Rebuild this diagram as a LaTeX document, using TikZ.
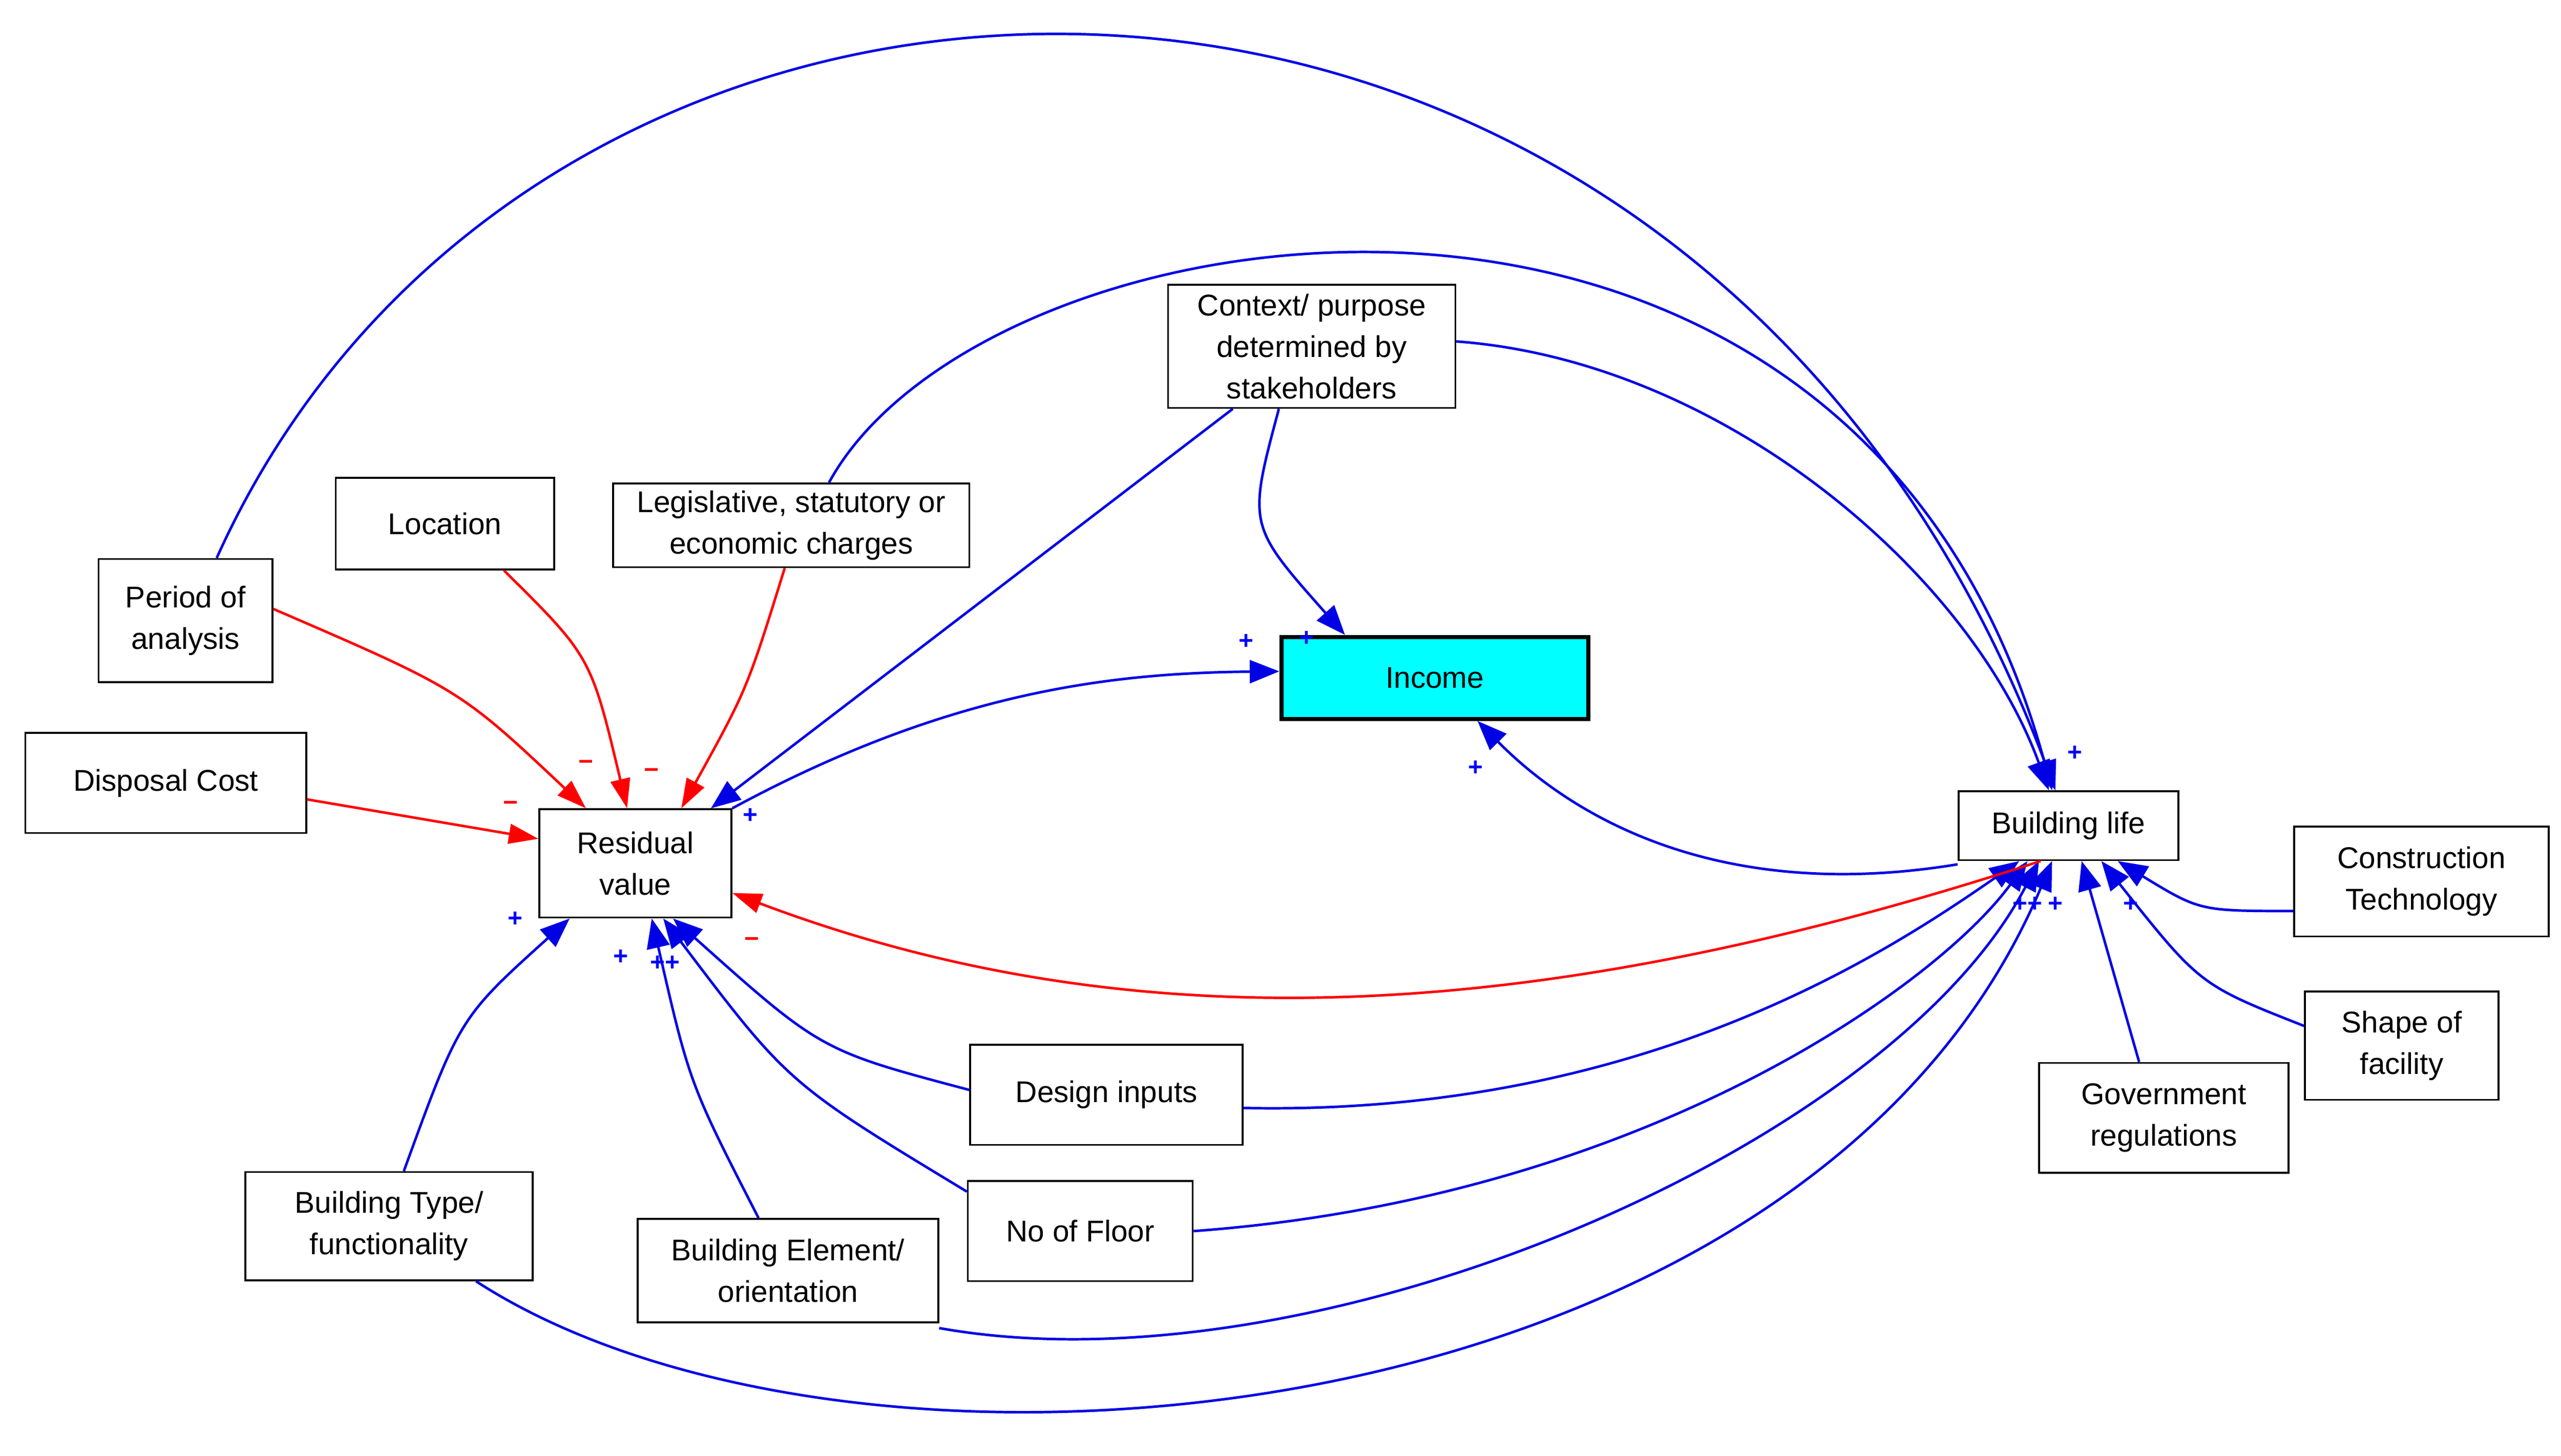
\documentclass[tikz,border=0pt]{standalone}
\usepackage{fontspec}
\setmainfont{Liberation Sans}
\usetikzlibrary{arrows.meta}
\definecolor{cy}{RGB}{0,255,255}
\begin{document}
\begin{tikzpicture}[x=0.05cm,y=-0.05cm,
  box/.style={draw,line width=1.6pt,align=center,inner sep=0pt,font=\fontsize{26}{36}\selectfont},
  bl/.style={draw=blue!90!black,line width=2.2pt,-{Triangle[length=0.9cm,width=0.7cm]}},
  rd/.style={draw=red,line width=2.2pt,-{Triangle[length=0.9cm,width=0.6cm]}},
  pl/.style={text=blue,font=\fontsize{22}{22}\selectfont\bfseries,inner sep=0pt},
  mi/.style={text=red,font=\fontsize{22}{22}\selectfont\bfseries,inner sep=0pt}]
\useasboundingbox (0,0) rectangle (1560,887);
\node[box,minimum width=5.3cm,minimum height=3.75cm] (per) at (113,378) {Period of\\analysis};
\node[box,minimum width=6.65cm,minimum height=2.8cm] (loc) at (271,319) {Location};
\node[box,minimum width=10.85cm,minimum height=2.55cm] (leg) at (482,320) {Legislative, statutory or\\economic charges};
\node[box,minimum width=8.75cm,minimum height=3.75cm] (ctx) at (799,211) {Context/ purpose\\determined by\\stakeholders};
\node[box,fill=cy,line width=3.5pt,minimum width=9.35cm,minimum height=2.5cm] (inc) at (874,413) {Income};
\node[box,minimum width=8.55cm,minimum height=3.05cm] (dis) at (101,477) {Disposal Cost};
\node[box,minimum width=5.85cm,minimum height=3.3cm] (res) at (387,526) {Residual\\value};
\node[box,minimum width=6.7cm,minimum height=2.1cm] (bli) at (1260,503) {Building life};
\node[box,minimum width=7.75cm,minimum height=3.35cm] (con) at (1475,537) {Construction\\Technology};
\node[box,minimum width=5.9cm,minimum height=3.3cm] (sha) at (1463,637) {Shape of\\facility};
\node[box,minimum width=7.6cm,minimum height=3.35cm] (gov) at (1318,681) {Government\\regulations};
\node[box,minimum width=8.3cm,minimum height=3.05cm] (des) at (674,667) {Design inputs};
\node[box,minimum width=6.85cm,minimum height=3.05cm] (flo) at (658,750) {No of Floor};
\node[box,minimum width=9.15cm,minimum height=3.15cm] (ele) at (480,774) {Building Element/\\orientation};
\node[box,minimum width=8.75cm,minimum height=3.3cm] (typ) at (237,747) {Building Type/\\functionality};
% blue
\draw[bl] ([xshift=0.95cm]per.north) .. controls (330,-100) and (1030,-110) .. ([xshift=-0.4cm]bli.north);
\draw[bl] ([xshift=1.15cm]leg.north) .. controls (600,120) and (1130,40) .. ([xshift=-0.5cm]bli.north);
\draw[bl] ([yshift=0.15cm]ctx.east) .. controls (1050,220) and (1200,350) .. ([xshift=-0.6cm]bli.north);
\draw[bl] ([xshift=2cm]ctx.south west) -- ([xshift=-0.65cm]res.north east);
\draw[bl] ([xshift=-1cm]ctx.south) .. controls (760,320) .. ([xshift=2cm]inc.north west);
\draw[bl] (res.north east) .. controls (580,420) and (680,410) .. ([yshift=0.2cm]inc.west);
\draw[bl] ([yshift=-0.1cm]bli.south west) .. controls (1050,550) and (960,500) .. ([xshift=1.3cm]inc.south);
\draw[bl] ([yshift=-0.9cm]con.west) .. controls (1340,555) .. ([xshift=1.5cm]bli.south);
\draw[bl] ([yshift=0.6cm]sha.west) .. controls (1340,600) .. ([xshift=1cm]bli.south);
\draw[bl] ([xshift=-0.75cm]gov.north) -- ([xshift=0.4cm]bli.south);
\draw[bl] ([yshift=-0.4cm]des.east) .. controls (1000,680) and (1150,580) .. ([xshift=-1.5cm]bli.south);
\draw[bl] ([yshift=0.15cm]des.west) .. controls (500,640) .. ([xshift=1.15cm]res.south);
\draw[bl] (flo.east) .. controls (1000,730) and (1180,600) .. ([xshift=-1.25cm]bli.south);
\draw[bl] ([yshift=-0.35cm]flo.north west) .. controls (480,660) .. ([xshift=0.85cm]res.south);
\draw[bl] ([yshift=-0.15cm]ele.south east) .. controls (800,850) and (1150,700) .. ([xshift=-0.9cm]bli.south);
\draw[bl] ([xshift=-0.9cm]ele.north) .. controls (420,660) .. ([xshift=0.5cm]res.south);
\draw[bl] ([xshift=0.45cm]typ.north) .. controls (280,620) .. ([xshift=-2cm]res.south);
\draw[bl] ([xshift=2.65cm]typ.south) .. controls (520,930) and (1100,880) .. ([xshift=-0.5cm]bli.south);
% red
\draw[rd] ([xshift=-0.85cm]bli.south) .. controls (950,620) and (700,640) .. ([yshift=-0.9cm]res.east);
\draw[rd] ([yshift=0.35cm]per.east) .. controls (280,420) .. ([xshift=1.45cm]res.north west);
\draw[rd] ([xshift=1.8cm]loc.south) .. controls (360,400) .. ([xshift=-0.25cm]res.north);
\draw[rd] ([xshift=-0.2cm]leg.south) .. controls (455,420) .. ([xshift=1.4cm]res.north);
\draw[rd] ([yshift=-0.5cm]dis.east) -- ([yshift=0.75cm]res.west);
% signs
\node[pl] (s1) at (759,391) {+};
\node[pl] (s2) at (796,389) {+};
\node[pl] (s3) at (899,468) {+};
\node[pl] (s4) at (1264,459) {+};
\node[pl] (s5) at (457,497) {+};
\node[pl] (s6) at (314,560) {+};
\node[pl] (s7) at (378,583) {+};
\node[pl] (s8) at (405,587) {++};
\node[pl] (s9) at (1235,551) {++};
\node[pl] (s10) at (1252,551) {+};
\node[pl] (s11) at (1298,551) {+};
\node[mi] (m1) at (357,466) {\textminus};
\node[mi] (m2) at (397,471) {\textminus};
\node[mi] (m3) at (311,491) {\textminus};
\node[mi] (m4) at (458,574) {\textminus};
\end{tikzpicture}
\end{document}
